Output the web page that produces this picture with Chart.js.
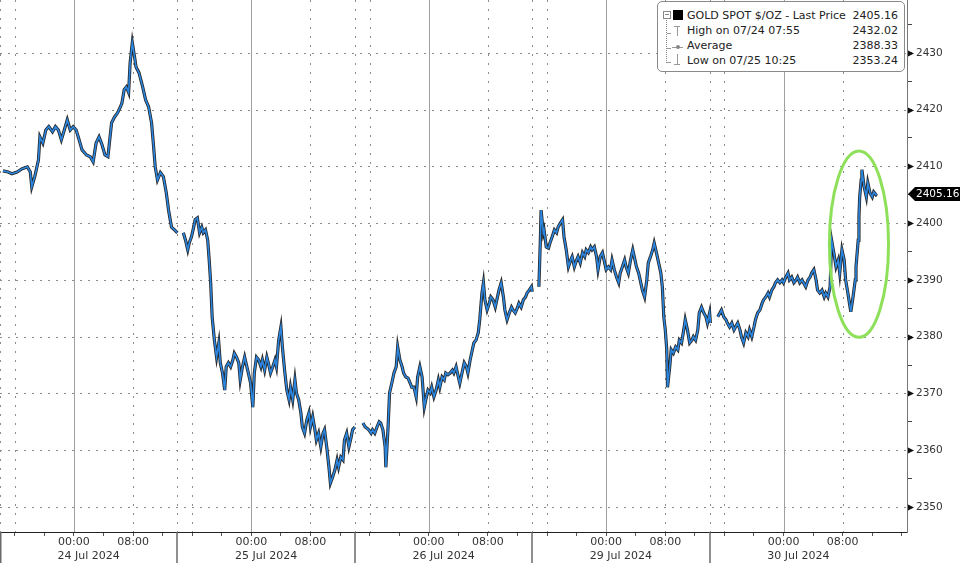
<!DOCTYPE html>
<html>
<head>
<meta charset="utf-8">
<script src="https://cdn.jsdelivr.net/npm/chart.js@4.4.1/dist/chart.umd.min.js"></script>
<style>
  html, body { margin: 0; padding: 0; background: #fff; }
  #wrap { position: relative; width: 960px; height: 563px; overflow: hidden; }
  #legend {
    position: absolute; left: 657px; top: 1px; width: 248px; height: 71px;
    box-sizing: border-box; background: #fff; border: 1px solid #8a8a8a; border-radius: 5px;
    font: 11px "DejaVu Sans", sans-serif; color: #222;
  }
  #legend .row { position: absolute; left: 29px; right: 6px; height: 14px; line-height: 14px; }
  #legend .row .v { position: absolute; right: 0; top: 0; }
  #legend .ic { position: absolute; }
</style>
</head>
<body>
<div id="wrap">
  <canvas id="chart" width="960" height="563"></canvas>
  <div id="legend">
    <!-- дерево значков -->
    <div class="ic" style="left:8px;top:16px;width:0;height:45px;border-left:1px dotted #888;"></div>
    <div class="ic" style="left:9px;top:31px;width:4px;border-top:1px solid #999;"></div>
    <div class="ic" style="left:9px;top:46px;width:4px;border-top:1px solid #999;"></div>
    <div class="ic" style="left:9px;top:60px;width:4px;border-top:1px solid #999;"></div>
    <div class="ic" style="left:5px;top:9px;width:6px;height:6px;border:1px solid #888;background:#fff;"></div>
    <div class="ic" style="left:7px;top:12px;width:4px;border-top:1px solid #888;"></div>
    <div class="ic" style="left:15px;top:8px;width:10px;height:10px;background:#000;"></div>
    <div class="ic" style="left:16px;top:24px;width:6px;border-top:1px solid #999;"></div>
    <div class="ic" style="left:19px;top:24px;width:0;height:10px;border-left:1px solid #999;"></div>
    <div class="ic" style="left:14px;top:45px;width:11px;border-top:1px solid #999;"></div>
    <div class="ic" style="left:18px;top:43px;width:4px;height:4px;border-radius:2px;background:#888;"></div>
    <div class="ic" style="left:19px;top:52px;width:0;height:10px;border-left:1px solid #999;"></div>
    <div class="ic" style="left:16px;top:62px;width:6px;border-top:1px solid #999;"></div>

    <div class="row" style="top:7px;">GOLD SPOT $/OZ - Last Price<span class="v">2405.16</span></div>
    <div class="row" style="top:22px;">High on 07/24 07:55<span class="v">2432.02</span></div>
    <div class="row" style="top:37px;">Average<span class="v">2388.33</span></div>
    <div class="row" style="top:52px;">Low on 07/25 10:25<span class="v">2353.24</span></div>
  </div>
</div>
<script>
// --- Данные: часы торговой шкалы (от 23 Jul 14:00, выходные выкинуты) и цены ---
const s1Hours = [0.4,1.1,1.6,2.3,3.0,3.7,4.1,4.3,4.7,5.2,5.4,5.8,6.2,6.6,7.1,7.5,7.9,8.3,8.7,9.1,9.5,9.9,10.3,10.7,11.1,11.7,12.2,12.6,13.0,13.4,13.8,14.2,14.6,15.1,15.5,15.9,16.3,16.5,16.8,17.1,17.4,17.6,17.9,18.2,18.4,18.8,19.3,19.7,20.1,20.5,20.7,21.0,21.3,21.7,22.1,22.5,22.8,23.2,23.6,24.0];
const s1Prices = [2409.2,2409.0,2408.7,2409.0,2409.6,2409.9,2409.0,2406.4,2408.2,2411.1,2415.2,2414.1,2416.4,2417.0,2416.1,2417.0,2416.4,2414.7,2416.4,2418.2,2416.4,2417.0,2416.4,2414.7,2412.9,2412.0,2411.7,2410.8,2414.1,2415.2,2413.8,2412.0,2411.7,2417.7,2418.7,2419.4,2420.5,2421.2,2423.5,2424.0,2423.0,2428.2,2431.8,2429.3,2427.5,2426.5,2424.0,2421.7,2420.5,2417.7,2414.7,2409.9,2407.6,2408.9,2408.2,2405.3,2402.3,2399.3,2398.8,2398.3];

const s2Hours = [24.8,25.1,25.4,25.6,25.9,26.2,26.4,26.7,27.0,27.3,27.5,27.8,28.1,28.3,28.5,28.7,29.0,29.3,29.6,29.8,30.1,30.4,30.6,30.9,31.2,31.5,31.7,32.0,32.3,32.5,32.8,33.1,33.4,33.6,33.9,34.2,34.4,34.7,35.0,35.3,35.5,35.8,36.1,36.3,36.6,36.9,37.2,37.4,37.7,38.0,38.2,38.5,38.8,39.1,39.3,39.6,39.9,40.1,40.4,40.7,40.9,41.2,41.5,41.8,42.0,42.3,42.6,42.8,43.1,43.4,43.7,43.9,44.2,44.5,44.7,45.0,45.3,45.6,45.8,46.1,46.4,46.6,46.9,47.2,47.5,47.7,48.0];
const s2Prices = [2398.3,2397.0,2395.3,2396.5,2397.6,2399.3,2400.6,2400.9,2398.3,2399.3,2398.3,2398.8,2397.0,2393.5,2389.5,2383.5,2379.4,2376.4,2378.9,2375.4,2373.6,2370.6,2374.7,2375.4,2374.7,2375.9,2377.1,2376.4,2375.4,2372.4,2374.7,2376.4,2374.7,2373.6,2371.8,2367.6,2373.6,2376.4,2375.9,2374.7,2375.9,2374.1,2376.4,2375.4,2373.6,2374.7,2375.9,2374.7,2379.4,2381.7,2378.2,2374.1,2370.6,2368.9,2371.1,2368.9,2372.4,2370.1,2368.9,2366.6,2364.1,2363.0,2365.3,2366.6,2364.1,2365.9,2363.6,2361.8,2363.0,2360.6,2363.0,2363.6,2360.6,2357.0,2354.2,2355.3,2356.5,2358.3,2357.0,2358.8,2358.3,2361.8,2363.0,2360.6,2362.3,2363.6,2364.1];

const s3Hours = [49.1,49.4,49.6,49.9,50.2,50.4,50.7,51.0,51.3,51.5,51.8,52.1,52.2,52.5,52.7,53.0,53.3,53.6,53.8,54.1,54.4,54.6,54.9,55.2,55.5,55.7,56.0,56.3,56.5,56.8,57.1,57.4,57.6,57.9,58.2,58.4,58.7,59.0,59.3,59.5,59.8,60.1,60.3,60.6,60.9,61.2,61.4,61.7,62.0,62.2,62.5,62.8,63.1,63.3,63.6,63.9,64.1,64.4,64.7,64.9,65.2,65.4,65.6,65.9,66.2,66.4,66.7,67.0,67.3,67.5,67.8,68.1,68.3,68.6,68.9,69.2,69.4,69.7,70.0,70.2,70.5,70.8,71.1,71.3,71.6,71.9,72.0];
const s3Prices = [2364.8,2364.1,2363.9,2363.6,2363.0,2363.6,2363.0,2364.1,2365.0,2364.8,2363.6,2360.6,2357.0,2364.1,2370.1,2371.8,2373.6,2374.7,2378.2,2375.9,2374.7,2373.6,2372.9,2372.7,2371.8,2371.1,2371.1,2369.4,2372.9,2374.7,2372.9,2367.6,2368.9,2370.6,2370.1,2371.1,2369.4,2370.6,2372.4,2371.1,2372.9,2372.4,2373.6,2373.3,2373.6,2374.1,2373.6,2374.7,2372.9,2371.8,2373.6,2375.4,2374.7,2373.6,2375.9,2377.7,2378.9,2379.4,2380.7,2383.0,2387.7,2389.5,2386.5,2384.7,2385.9,2387.0,2386.5,2385.2,2387.0,2388.2,2389.5,2387.0,2384.7,2383.0,2384.2,2385.2,2384.7,2384.2,2385.1,2385.9,2385.2,2386.5,2387.0,2387.7,2388.2,2388.8,2387.9];

const s4Hours = [72.9,73.1,73.2,73.5,73.6,73.9,74.2,74.4,74.7,75.0,75.3,75.5,75.8,76.1,76.3,76.6,76.9,77.2,77.4,77.7,78.0,78.2,78.5,78.8,79.1,79.3,79.6,79.9,80.1,80.4,80.7,80.9,81.2,81.5,81.8,82.0,82.3,82.6,82.8,83.1,83.4,83.7,83.9,84.2,84.5,84.7,85.0,85.3,85.6,85.8,86.1,86.4,86.6,86.9,87.2,87.5,87.7,88.0,88.3,88.5,88.8,89.1,89.4,89.6,89.8,90.0,90.2,90.3,90.6,90.8,91.1,91.4,91.7,91.9,92.2,92.5,92.7,93.0,93.3,93.6,93.8,94.1,94.4,94.6,94.9,95.2,95.5,95.7,96.0,96.1];
const s4Prices = [2388.8,2397.0,2402.3,2398.3,2398.8,2395.8,2395.6,2396.5,2397.6,2398.8,2398.3,2399.3,2400.0,2400.6,2397.6,2395.3,2392.3,2393.5,2394.1,2392.3,2393.5,2394.1,2393.0,2394.8,2394.1,2395.3,2394.8,2395.8,2395.3,2395.8,2394.1,2391.8,2394.1,2394.8,2393.0,2391.8,2392.3,2391.8,2393.5,2391.8,2390.5,2389.5,2391.2,2392.3,2393.5,2392.3,2391.2,2393.5,2395.3,2394.1,2392.3,2391.2,2390.0,2388.2,2387.0,2390.0,2393.0,2394.1,2395.3,2396.5,2394.8,2393.0,2391.2,2388.8,2383.5,2381.2,2377.7,2371.1,2374.7,2377.7,2377.1,2378.2,2377.7,2379.4,2378.9,2381.2,2383.0,2381.2,2378.9,2379.4,2380.0,2379.4,2381.2,2384.2,2385.2,2384.2,2383.5,2382.4,2384.2,2382.4];

const s5Hours = [97.1,97.4,97.6,97.9,98.2,98.4,98.7,99.0,99.3,99.5,99.8,100.1,100.3,100.6,100.9,101.2,101.4,101.7,102.0,102.2,102.5,102.8,103.1,103.3,103.6,103.9,104.1,104.4,104.7,104.9,105.2,105.5,105.8,106.0,106.3,106.6,106.8,107.1,107.4,107.7,107.9,108.2,108.5,108.7,109.0,109.3,109.6,109.8,110.1,110.4,110.6,110.9,111.2,111.5,111.7,112.0,112.3,112.5,112.8,113.1,113.4,113.6,113.9,114.2,114.4,114.7,115.0,115.1,115.4,115.7,115.8,116.1,116.2,116.3,116.5,116.6,116.9,117.2,117.4,117.7,118.0,118.2,118.5,118.6];
const s5Prices = [2383.5,2384.2,2384.7,2383.5,2383.0,2382.4,2381.7,2382.4,2381.2,2381.7,2382.4,2381.2,2380.0,2378.9,2380.7,2380.0,2381.2,2380.0,2381.7,2383.0,2384.2,2384.7,2385.9,2386.5,2387.0,2387.7,2387.0,2388.2,2388.8,2389.5,2390.0,2389.5,2390.0,2389.5,2390.5,2391.2,2390.0,2390.5,2389.5,2390.0,2390.5,2389.5,2390.0,2389.5,2388.8,2390.0,2390.5,2391.2,2391.8,2390.0,2388.2,2387.7,2388.2,2387.0,2387.7,2387.0,2388.8,2397.0,2394.8,2392.3,2393.5,2391.2,2395.3,2393.5,2390.0,2387.7,2385.2,2384.4,2387.0,2390.0,2392.3,2397.0,2401.1,2404.6,2407.6,2409.4,2406.4,2404.6,2407.1,2405.3,2404.6,2405.5,2405.0,2405.16];

// --- Оси: метки, сетка, сессии ---
const yTickValues = [2350,2355,2360,2365,2370,2375,2380,2385,2390,2395,2400,2405,2410,2415,2420,2425,2430,2435];
const xTickValues = [2,6,10,14,18,22,26,30,34,38,42,46,50,54,58,62,66,70,74,78,82,86,90,94,98,102,106,110,114,118,122];
const midnightHours = [10,34,58,82,106];
const morningHours = [18,42,66,90,114];
const sessionBreaks = [0,24,48,72,96];
const sessionOpens = [2,26,50,74,98];
const dateLabels = ['24 Jul 2024','25 Jul 2024','26 Jul 2024','29 Jul 2024','30 Jul 2024'];
const dateLabelHours = [12,36,60,84,108];
const lastPrice = 2405.16;
const circleCenter = { h: 116.2, v: 2396.3, rh: 4.0, rv: 16.4 };

const sessions = [[s1Hours,s1Prices],[s2Hours,s2Prices],[s3Hours,s3Prices],[s4Hours,s4Prices],[s5Hours,s5Prices]];
const points = [];
sessions.forEach(([hs, ps], i) => {
  const n = Math.min(hs.length, ps.length);
  for (let k = 0; k < n; k++) points.push({ x: hs[k], y: ps[k] });
  if (i < sessions.length - 1) points.push({ x: hs[n - 1] + 0.3, y: null }); // разрыв между сессиями
});

const FONT = '"DejaVu Sans", sans-serif';

// убираем автоматические отступы шкал, чтобы область графика шла от края до края
function fixPadding(s) {
  s.paddingTop = 0; s.paddingBottom = 0; s.paddingLeft = 0; s.paddingRight = 0;
}

const overlay = {
  id: 'overlay',
  beforeDatasetsDraw(chart) {
    const { ctx, chartArea: a, scales: { x, y } } = chart;
    ctx.save();
    ctx.lineWidth = 1;
    // горизонтальная пунктирная сетка
    ctx.strokeStyle = '#8c8c8c';
    ctx.setLineDash([2, 6]);
    yTickValues.filter(v => v % 10 === 0).forEach(v => {
      const py = Math.round(y.getPixelForValue(v)) + 0.5;
      ctx.beginPath(); ctx.moveTo(a.left, py); ctx.lineTo(a.right, py); ctx.stroke();
    });
    // вертикальная пунктирная сетка
    ctx.setLineDash([2, 7]);
    [...sessionBreaks, ...sessionOpens, ...morningHours].forEach(h => {
      const px = Math.round(x.getPixelForValue(h)) + 0.5;
      ctx.beginPath(); ctx.moveTo(px, a.top); ctx.lineTo(px, a.bottom); ctx.stroke();
    });
    // сплошные линии полуночи
    ctx.setLineDash([]);
    ctx.strokeStyle = '#a0a0a0';
    midnightHours.forEach(h => {
      const px = Math.round(x.getPixelForValue(h)) + 0.5;
      ctx.beginPath(); ctx.moveTo(px, a.top); ctx.lineTo(px, a.bottom); ctx.stroke();
    });
    ctx.restore();
  },
  afterDatasetsDraw(chart) {
    const { ctx, scales: { x, y } } = chart;
    // зелёный овал
    const cx = x.getPixelForValue(circleCenter.h);
    const cy = y.getPixelForValue(circleCenter.v);
    const rx = x.getPixelForValue(circleCenter.h + circleCenter.rh) - cx;
    const ry = cy - y.getPixelForValue(circleCenter.v + circleCenter.rv);
    ctx.save();
    ctx.strokeStyle = '#8ee05a';
    ctx.lineWidth = 3;
    ctx.beginPath();
    ctx.ellipse(cx, cy, rx, ry, 0, 0, Math.PI * 2);
    ctx.stroke();
    ctx.restore();
  },
  afterDraw(chart) {
    const { ctx, chartArea: a, scales: { x, y } } = chart;
    ctx.save();
    // разделители дат под осью
    ctx.strokeStyle = '#6a6a6a';
    ctx.lineWidth = 1.5;
    sessionBreaks.forEach(h => {
      const px = Math.max(0.75, Math.round(x.getPixelForValue(h)));
      ctx.beginPath(); ctx.moveTo(px, a.bottom); ctx.lineTo(px, chart.height); ctx.stroke();
    });
    // подписи дат
    ctx.fillStyle = '#333';
    ctx.font = '11px ' + FONT;
    ctx.textAlign = 'center';
    ctx.textBaseline = 'middle';
    dateLabels.forEach((t, i) => ctx.fillText(t, x.getPixelForValue(dateLabelHours[i]), 556));
    // треугольники у подписанных делений
    ctx.fillStyle = '#111';
    yTickValues.filter(v => v % 10 === 0).forEach(v => {
      const py = Math.round(y.getPixelForValue(v)) + 0.5;
      ctx.beginPath();
      ctx.moveTo(a.right + 1, py - 3); ctx.lineTo(a.right + 7, py); ctx.lineTo(a.right + 1, py + 3);
      ctx.closePath(); ctx.fill();
    });
    // плашка последней цены
    const ty = Math.round(y.getPixelForValue(lastPrice));
    ctx.fillStyle = '#000';
    ctx.beginPath();
    ctx.moveTo(a.right + 1, ty);
    ctx.lineTo(a.right + 8, ty - 7);
    ctx.lineTo(chart.width, ty - 7);
    ctx.lineTo(chart.width, ty + 7);
    ctx.lineTo(a.right + 8, ty + 7);
    ctx.closePath(); ctx.fill();
    ctx.fillStyle = '#fff';
    ctx.textAlign = 'left';
    ctx.font = '10.5px ' + FONT;
    ctx.fillText(lastPrice.toFixed(2), a.right + 9, ty + 0.5);
    ctx.restore();
  }
};

const ctx = document.getElementById('chart').getContext('2d');
new Chart(ctx, {
  type: 'line',
  data: {
    datasets: [
      { data: points, borderColor: '#2b86e0', borderWidth: 1.6, pointRadius: 0, tension: 0, spanGaps: false, order: 1 },
      { data: points, borderColor: '#262626', borderWidth: 3.2, pointRadius: 0, tension: 0, spanGaps: false, order: 2 }
    ]
  },
  options: {
    responsive: false, animation: false,
    layout: { padding: 0 },
    plugins: { legend: { display: false }, tooltip: { enabled: false } },
    scales: {
      x: {
        type: 'linear', min: 0, max: 122.7,
        afterFit: (s) => { s.height = 31; fixPadding(s); },
        afterBuildTicks: (s) => { s.ticks = xTickValues.map(v => ({ value: v })); },
        grid: { drawOnChartArea: false, drawTicks: true, tickLength: 4, tickColor: '#555' },
        border: { color: '#222', width: 1 },
        ticks: {
          autoSkip: false, maxRotation: 0, padding: 0, color: '#333',
          font: { family: FONT, size: 11 },
          callback: (v) => {
            if (midnightHours.includes(v)) return '00:00';
            if (morningHours.includes(v)) return '08:00';
            return '';
          }
        }
      },
      y: {
        position: 'right', min: 2345.6, max: 2439.3,
        afterFit: (s) => { s.width = 53; fixPadding(s); },
        afterBuildTicks: (s) => { s.ticks = yTickValues.map(v => ({ value: v })); },
        grid: { drawOnChartArea: false, drawTicks: true, tickLength: 5, tickColor: '#444' },
        border: { color: '#777', width: 1 },
        ticks: {
          padding: 4, color: '#333',
          font: { family: FONT, size: 10.5 },
          callback: (v) => (v % 10 === 0 ? String(v) : '')
        }
      }
    }
  },
  plugins: [overlay]
});
</script>
</body>
</html>
